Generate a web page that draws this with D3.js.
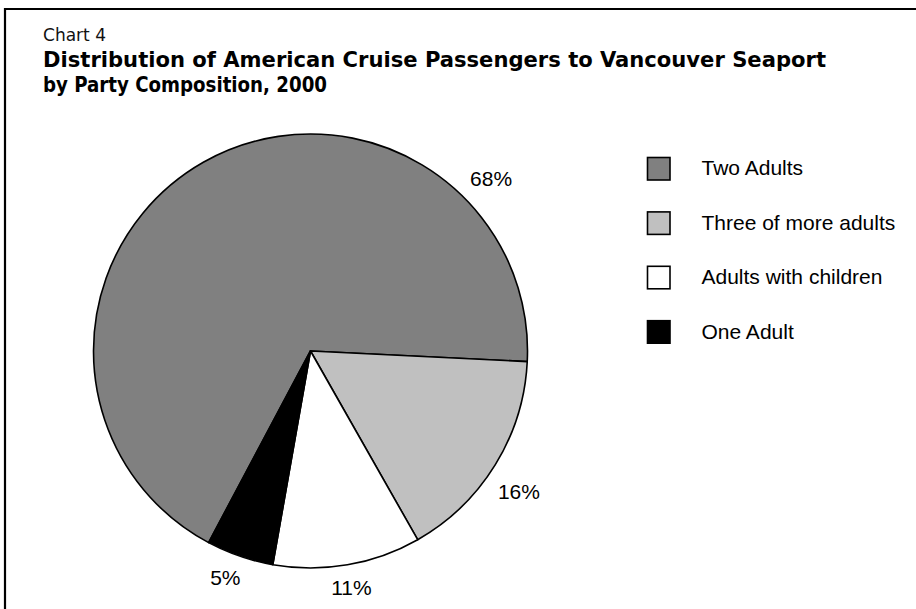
<!DOCTYPE html>
<html>
<head>
<meta charset="utf-8">
<script src="https://cdn.jsdelivr.net/npm/d3@7/dist/d3.min.js"></script>
<style>
  html, body { margin: 0; padding: 0; background: #fff; }
  svg { display: block; }
</style>
</head>
<body>
<svg id="chart" width="916" height="609"></svg>
<script>
// Party composition shares (%), in legend order
const categories = ["Two Adults", "Three of more adults", "Adults with children", "One Adult"];
const shares = [68, 16, 11, 5];
const fills = ["#808080", "#c0c0c0", "#ffffff", "#000000"];
// where along each slice its percentage label sits (0 = slice start, 1 = slice end)
const labelAlong = [0.81, 0.54, 0.5, 0.59];

const chartLabel = "Chart 4";
const titleLines = [
  "Distribution of American Cruise Passengers to Vancouver Seaport",
  "by Party Composition, 2000"
];
// set widths of the heading lines
const titleWidths = [783, 284];

const W = 916, H = 609;
const svg = d3.select("#chart");
const narrow = "'Liberation Sans Narrow', 'Arial Narrow', 'DejaVu Sans Condensed', sans-serif";

// frame: only the top and left edges fall inside the page
svg.append("path")
  .attr("d", `M5,${H + 5} V9 H${W + 5}`)
  .attr("fill", "none")
  .attr("stroke", "#000")
  .attr("stroke-width", 2.2);

// headings
svg.append("text")
  .attr("x", 43).attr("y", 41)
  .attr("font-family", narrow)
  .attr("font-size", 17.5)
  .attr("textLength", 63)
  .attr("lengthAdjust", "spacingAndGlyphs")
  .attr("fill", "#111")
  .text(chartLabel);

svg.selectAll("text.title")
  .data(titleLines)
  .join("text")
  .attr("class", "title")
  .attr("x", 43)
  .attr("y", (d, i) => 67 + i * 25)
  .attr("font-family", narrow)
  .attr("font-weight", "bold")
  .attr("font-size", 21)
  .attr("textLength", (d, i) => titleWidths[i])
  .attr("lengthAdjust", "spacingAndGlyphs")
  .attr("fill", "#000")
  .text(d => d);

// pie
const cx = 310.5, cy = 351, R = 217;
const deg = Math.PI / 180;
const pie = d3.pie().sort(null).value(d => d)
  .startAngle(208 * deg).endAngle(208 * deg + 2 * Math.PI);
const arcs = pie(shares);
const arc = d3.arc().innerRadius(0).outerRadius(R);

const g = svg.append("g").attr("transform", `translate(${cx},${cy})`);
g.selectAll("path")
  .data(arcs)
  .join("path")
  .attr("d", arc)
  .attr("fill", (d, i) => fills[i])
  .attr("stroke", "#000")
  .attr("stroke-width", 1.6)
  .attr("stroke-linejoin", "round");

// percentage labels, kept a fixed gap outside the rim
const labelFont = 21;
const gap = 12.5;
const lbl = g.selectAll("text.pct")
  .data(arcs)
  .join("text")
  .attr("class", "pct")
  .attr("font-family", "'Liberation Sans', Arial, sans-serif")
  .attr("font-size", labelFont)
  .attr("fill", "#000")
  .attr("text-anchor", "middle")
  .text(d => d.value + "%");

lbl.each(function (d, i) {
  const w = this.getComputedTextLength();
  const capH = labelFont * 0.716;
  const a = d.startAngle + (d.endAngle - d.startAngle) * labelAlong[i];
  const s = Math.sin(a), c = -Math.cos(a);
  const half = Math.abs(s) * w / 2 + Math.abs(c) * capH / 2;
  const dist = R + gap + half;
  d3.select(this)
    .attr("x", s * dist)
    .attr("y", c * dist + capH / 2);
});

// legend
const legend = svg.append("g").attr("transform", "translate(647,157)");
const item = legend.selectAll("g")
  .data(categories)
  .join("g")
  .attr("transform", (d, i) => `translate(0,${i * 54.4})`);
item.append("rect")
  .attr("x", 0.5).attr("y", 0.5)
  .attr("width", 22.5).attr("height", 22.5)
  .attr("fill", (d, i) => fills[i])
  .attr("stroke", "#000")
  .attr("stroke-width", 1.6);
item.append("text")
  .attr("x", 54.5).attr("y", 18.3)
  .attr("font-family", "'Liberation Sans', Arial, sans-serif")
  .attr("font-size", 21)
  .attr("fill", "#000")
  .text(d => d);
</script>
</body>
</html>
